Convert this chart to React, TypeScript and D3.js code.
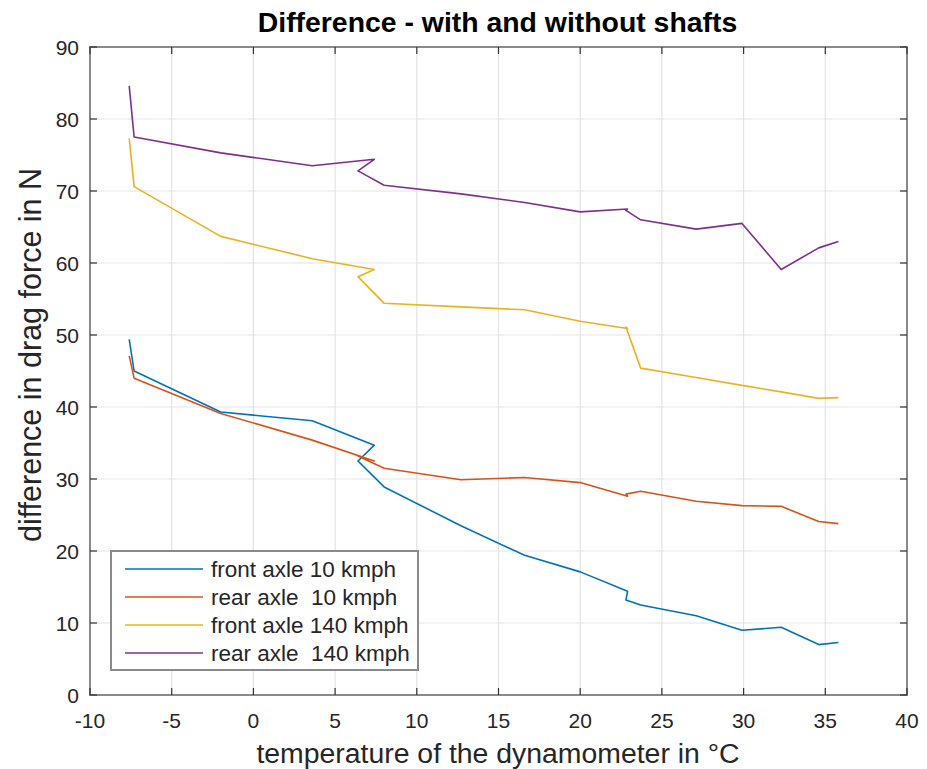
import React from "react";
import * as d3 from "d3";

const temps = [-7.6, -7.3, -2.0, 3.6, 7.4, 6.4, 8.0, 12.7, 16.6, 20.0, 22.9, 22.8, 23.7, 27.1, 29.9, 32.3, 34.6, 35.8];
const frontAxle10 = [49.4, 45.0, 39.3, 38.1, 34.7, 32.5, 28.9, 23.5, 19.4, 17.1, 14.4, 13.2, 12.5, 11.0, 9.0, 9.4, 7.0, 7.3];
const rearAxle10 = [47.1, 44.0, 39.1, 35.4, 32.5, 33.2, 31.5, 29.9, 30.2, 29.5, 27.6, 27.9, 28.3, 26.9, 26.3, 26.2, 24.1, 23.8];
const frontAxle140 = [77.3, 70.6, 63.7, 60.6, 59.1, 58.1, 54.4, 53.9, 53.5, 51.9, 50.9, 51.1, 45.4, 44.1, 43.0, 42.1, 41.2, 41.3];
const rearAxle140 = [84.6, 77.5, 75.3, 73.5, 74.4, 72.8, 70.8, 69.6, 68.4, 67.1, 67.5, 67.3, 66.0, 64.7, 65.5, 59.1, 62.1, 63.0];

const seriesNames = ["front axle 10 kmph", "rear axle  10 kmph", "front axle 140 kmph", "rear axle  140 kmph"];
const seriesColors = ["#0072BD", "#D95319", "#EDB120", "#7E2F8E"];
const seriesValues = [frontAxle10, rearAxle10, frontAxle140, rearAxle140];

const xTicks = [-10, -5, 0, 5, 10, 15, 20, 25, 30, 35, 40];
const yTicks = [0, 10, 20, 30, 40, 50, 60, 70, 80, 90];

const W = 927;
const H = 769;
const L = 90, R = 907, T = 47, B = 695;
const FONT = "'Liberation Sans', Arial, Helvetica, sans-serif";
const TXT = "#262626";

export default function App() {
  const x = d3.scaleLinear().domain([-10, 40]).range([L, R]);
  const y = d3.scaleLinear().domain([0, 90]).range([B, T]);
  const line = d3.line<[number, number]>().x(d => x(d[0])).y(d => y(d[1]));
  const tick = 7;

  return (
    <svg width={W} height={H} style={{ position: "absolute", left: 0, top: 0, background: "#fff" }} fontFamily={FONT}>
      <rect x={0} y={0} width={W} height={H} fill="#fff" />
      {xTicks.map(t => (
        <line key={"gx" + t} x1={x(t)} x2={x(t)} y1={T} y2={B} stroke="#e3e3e3" strokeWidth={1.2} />
      ))}
      {yTicks.map(t => (
        <line key={"gy" + t} x1={L} x2={R} y1={y(t)} y2={y(t)} stroke="#e3e3e3" strokeWidth={1.2} />
      ))}
      {seriesValues.map((vals, i) => (
        <path key={i} d={line(temps.map((t, j) => [t, vals[j]] as [number, number])) || ""} fill="none" stroke={seriesColors[i]} strokeWidth={1.6} strokeLinejoin="round" />
      ))}
      <rect x={L} y={T} width={R - L} height={B - T} fill="none" stroke="#8a8a8a" strokeWidth={2} />
      {xTicks.map(t => (
        <g key={"tx" + t}>
          <line x1={x(t)} x2={x(t)} y1={B} y2={B - tick} stroke="#333" strokeWidth={1.2} />
          <line x1={x(t)} x2={x(t)} y1={T} y2={T + tick} stroke="#333" strokeWidth={1.2} />
          <text x={x(t)} y={728} textAnchor="middle" fontSize={21} fill={TXT}>{t}</text>
        </g>
      ))}
      {yTicks.map(t => (
        <g key={"ty" + t}>
          <line x1={L} x2={L + tick} y1={y(t)} y2={y(t)} stroke="#333" strokeWidth={1.2} />
          <line x1={R} x2={R - tick} y1={y(t)} y2={y(t)} stroke="#333" strokeWidth={1.2} />
          <text x={79} y={y(t) + 7.5} textAnchor="end" fontSize={21} fill={TXT}>{t}</text>
        </g>
      ))}
      <text x={497.5} y={32} textAnchor="middle" fontSize={28.4} fontWeight="bold" fill="#000">Difference - with and without shafts</text>
      <text x={498} y={763} textAnchor="middle" fontSize={28.4} fill={TXT}>temperature of the dynamometer in °C</text>
      <text transform={`translate(41, 355) rotate(-90)`} textAnchor="middle" fontSize={30.5} fill={TXT}>difference in drag force in N</text>
      <rect x={111} y={551} width={307} height={119} fill="#fff" stroke="#8a8a8a" strokeWidth={2} />
      {seriesNames.map((n, i) => {
        const yy = 569 + i * 28;
        return (
          <g key={"lg" + i}>
            <line x1={125} x2={203} y1={yy} y2={yy} stroke={seriesColors[i]} strokeWidth={1.6} />
            <text x={211} y={yy + 8} fontSize={22.5} fill={TXT} style={{ whiteSpace: "pre" }}>{n}</text>
          </g>
        );
      })}
    </svg>
  );
}
